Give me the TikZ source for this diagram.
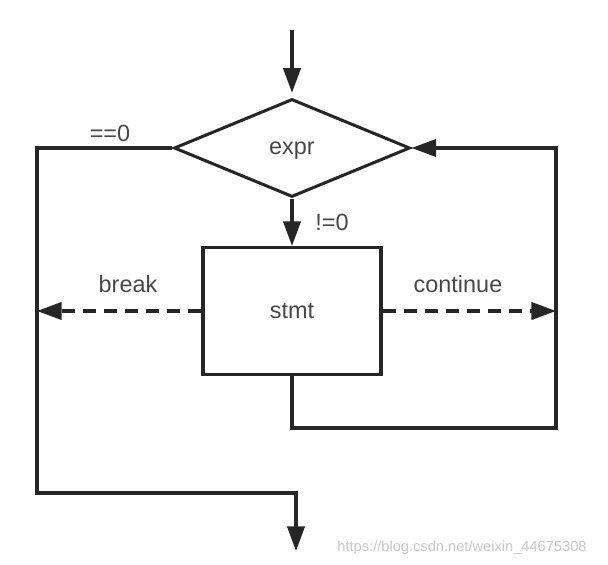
\documentclass[tikz,border=0pt]{standalone}
\usepackage{fontspec}
\setmainfont{Liberation Sans}
\usetikzlibrary{shapes.geometric,arrows.meta}

\tikzset{
  flow/.style={line width=2.6pt,draw=black!85},
  arr/.style={flow,-{Triangle[length=0.74cm,width=0.52cm]}},
  jump/.style={arr,dash pattern=on 0.39cm off 0.24cm},
  lbl/.style={text=black!72,font=\fontsize{20}{24}\selectfont},
}

\begin{document}
\begin{tikzpicture}[x=0.03cm,y=-0.03cm]
  \useasboundingbox (0,0) rectangle (608,565);
  % blocks
  \node[diamond,flow,lbl,inner sep=0pt,text depth=0pt,minimum width=7.08cm,minimum height=2.94cm] (expr) at (292,148) {expr};
  \node[rectangle,flow,lbl,minimum width=5.34cm,minimum height=3.81cm] (stmt) at (292,311) {stmt};
  % corners of the loop
  \coordinate (in) at (292,30);
  \coordinate (lft) at (37,148);
  \coordinate (lbot) at (37,493);
  \coordinate (out) at (296,551);
  \coordinate (rgt) at (556,148);
  \coordinate (rbot) at (556,428);
  % connectors
  \draw[arr,shorten >=4pt] (in) -- (expr.north);
  \draw[arr] (expr.south) -- (stmt.north);
  \draw[arr] (expr.west) -- (lft) -- (lbot) -| (out);
  \draw[arr] (stmt.south) |- (rbot) -- (rgt) -- (expr.east);
  \draw[jump] (stmt.west) -- (stmt.west -| lft);
  \draw[jump] (stmt.east) -- (stmt.east -| rgt);
  % labels
  \node[lbl] (zero) at (110,133) {==0};
  \node[lbl] (nonzero) at (332,222) {!=0};
  \node[lbl] (brk) at (128,284) {break};
  \node[lbl] (cont) at (458,284) {continue};
  \node[text=black!22,font=\fontsize{12.5}{14}\selectfont] (mark) at (462,548) {https://blog.csdn.net/weixin\_44675308};
\end{tikzpicture}
\end{document}
